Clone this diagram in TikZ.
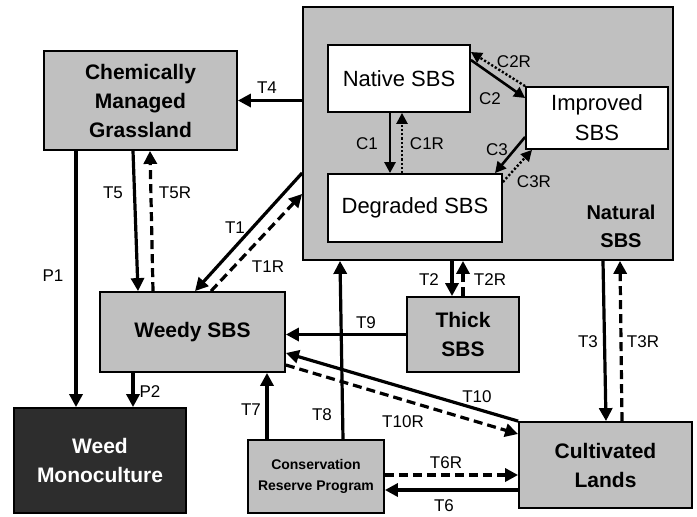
\documentclass[tikz,border=0pt]{standalone}
\usepackage{fontspec}
\setmainfont{Liberation Sans}
\usetikzlibrary{arrows.meta}
\definecolor{boxgray}{RGB}{192,192,192}
\definecolor{darkbox}{RGB}{45,45,45}

\begin{document}
\begin{tikzpicture}[x = 1pt, y = -1pt,
    state/.style = {draw, line width = 1.8, fill = boxgray, inner sep = 0, align = center, font = \fontsize{21}{29}\selectfont\bfseries},
    cell/.style = {draw, line width = 1.8, fill = white, inner sep = 0, align = center, font = \fontsize{22}{30}\selectfont},
    title/.style = {inner sep = 0, align = center, font = \fontsize{20}{28}\selectfont\bfseries},
    lbl/.style = {inner sep = 0, font = \fontsize{17}{20}\selectfont},
    arr/.style = {line width = 3.2, -{Triangle[length = 13pt, width = 13pt]}},
    rev/.style = {arr, dash pattern = on 9pt off 5pt},
    carr/.style = {line width = 2.6, -{Triangle[length = 11pt, width = 11pt]}},
    crev/.style = {carr, line width = 2.4, dash pattern = on 2.2pt off 2pt}]
    \useasboundingbox (0,0) rectangle (697,517);

    % boxes
    \node [state, minimum width = 370pt, minimum height = 253pt] (nat) at (488,133.5) {};
    \node [title] (natlbl) at (621,226) {Natural\\SBS};
    \node [cell, minimum width = 142pt, minimum height = 67pt] (native) at (399,78.5) {Native SBS};
    \node [cell, minimum width = 142pt, minimum height = 62pt] (improved) at (597,118) {Improved\\SBS};
    \node [cell, minimum width = 174pt, minimum height = 68pt] (degraded) at (415,208) {Degraded SBS};
    \node [state, minimum width = 193pt, minimum height = 99pt] (cmg) at (140.5,100.5) {Chemically\\Managed\\Grassland};
    \node [state, minimum width = 185pt, minimum height = 80pt] (weedy) at (192.5,332) {Weedy SBS};
    \node [state, fill = darkbox, text = white, minimum width = 172pt, minimum height = 105pt] (mono) at (100,460.5) {Weed\\Monoculture};
    \node [state, minimum width = 112pt, minimum height = 75pt] (thick) at (463,334.5) {Thick\\SBS};
    \node [state, minimum width = 173pt, minimum height = 86pt] (cult) at (605.5,465) {Cultivated\\Lands};
    \node [state, font = \fontsize{14}{21}\selectfont\bfseries, minimum width = 136pt, minimum height = 73pt] (crp) at (316,476.5) {Conservation\\Reserve Program};

    % inside Natural SBS
    \draw [carr] ([xshift = -9pt]native.south) -- ([xshift = -25pt]degraded.north);
    \draw [crev] ([xshift = -13pt]degraded.north) -- ([xshift = 3pt]native.south);
    \draw [carr] ([yshift = 18.5pt]native.east) -- ([yshift = 20pt]improved.west);
    \draw [crev] (improved.north west) -- ([yshift = 26.5pt]native.east);
    \draw [carr] ([yshift = -19pt]improved.west) -- ([xshift = 80pt]degraded.north);
    \draw [crev] ([yshift = 26pt]degraded.east) -- ([xshift = -65pt]improved.south);
    \node [lbl] (lC1) at (367,144) {C1};
    \node [lbl] (lC1R) at (427,144) {C1R};
    \node [lbl] (lC2) at (490,99) {C2};
    \node [lbl] (lC2R) at (514,62) {C2R};
    \node [lbl] (lC3) at (497,150) {C3};
    \node [lbl] (lC3R) at (534,182) {C3R};

    % transitions
    \draw [arr] (cmg.east -| nat.west) -- (cmg.east);
    \draw [arr] ([xshift = -64.5pt]cmg.south) -- ([xshift = -24pt]mono.north);
    \draw [arr] ([xshift = -7.5pt]cmg.south) -- ([xshift = -54.5pt]weedy.north);
    \draw [rev] ([xshift = -39.5pt]weedy.north) -- ([xshift = 9.5pt]cmg.south);
    \draw [arr] ([yshift = -39.5pt]nat.west) -- ([xshift = 2.5pt]weedy.north);
    \draw [rev] ([xshift = 18.5pt]weedy.north) -- ([yshift = -60.5pt]nat.west);
    \draw [arr] ([xshift = -59.5pt]weedy.south) -- ([xshift = 33pt]mono.north);
    \draw [arr] ([xshift = -49pt]crp.north) -- ([xshift = 74.5pt]weedy.south);
    \draw [arr] ([xshift = 27pt]crp.north) -- ([xshift = -148pt]nat.south);
    \draw [arr] (thick.west) -- (thick.west -| weedy.east);
    \draw [arr] ([xshift = -36pt]nat.south) -- ([xshift = -11pt]thick.north);
    \draw [rev] (thick.north) -- ([xshift = -25pt]nat.south);
    \draw [arr] ([xshift = 115pt]nat.south) -- ([xshift = 0.5pt]cult.north);
    \draw [rev] ([xshift = 16.5pt]cult.north) -- ([xshift = 132pt]nat.south);
    \draw [arr] (cult.north west) -- ([yshift = -21pt]weedy.east);
    \draw [rev] ([yshift = -33pt]weedy.east) -- ([yshift = 31pt]cult.west);
    \draw [rev] ([yshift = 1.5pt]crp.east) -- ([yshift = -10pt]cult.west);
    \draw [arr] ([yshift = -25pt]cult.west) -- ([yshift = -13.5pt]crp.east);
    \node [lbl] (lT4) at (267,88) {T4};
    \node [lbl] (lP1) at (53,276) {P1};
    \node [lbl] (lT5) at (113,193) {T5};
    \node [lbl] (lT5R) at (175,193) {T5R};
    \node [lbl] (lT1) at (235,228) {T1};
    \node [lbl] (lT1R) at (268,267) {T1R};
    \node [lbl] (lP2) at (150,392) {P2};
    \node [lbl] (lT7) at (251,410) {T7};
    \node [lbl] (lT8) at (322,415) {T8};
    \node [lbl] (lT9) at (366,323) {T9};
    \node [lbl] (lT2) at (429,280) {T2};
    \node [lbl] (lT2R) at (490,280) {T2R};
    \node [lbl] (lT3) at (588,342) {T3};
    \node [lbl] (lT3R) at (643,342) {T3R};
    \node [lbl] (lT10) at (477,397) {T10};
    \node [lbl] (lT10R) at (403,422) {T10R};
    \node [lbl] (lT6R) at (446,463) {T6R};
    \node [lbl] (lT6) at (444,506) {T6};
\end{tikzpicture}
\end{document}
